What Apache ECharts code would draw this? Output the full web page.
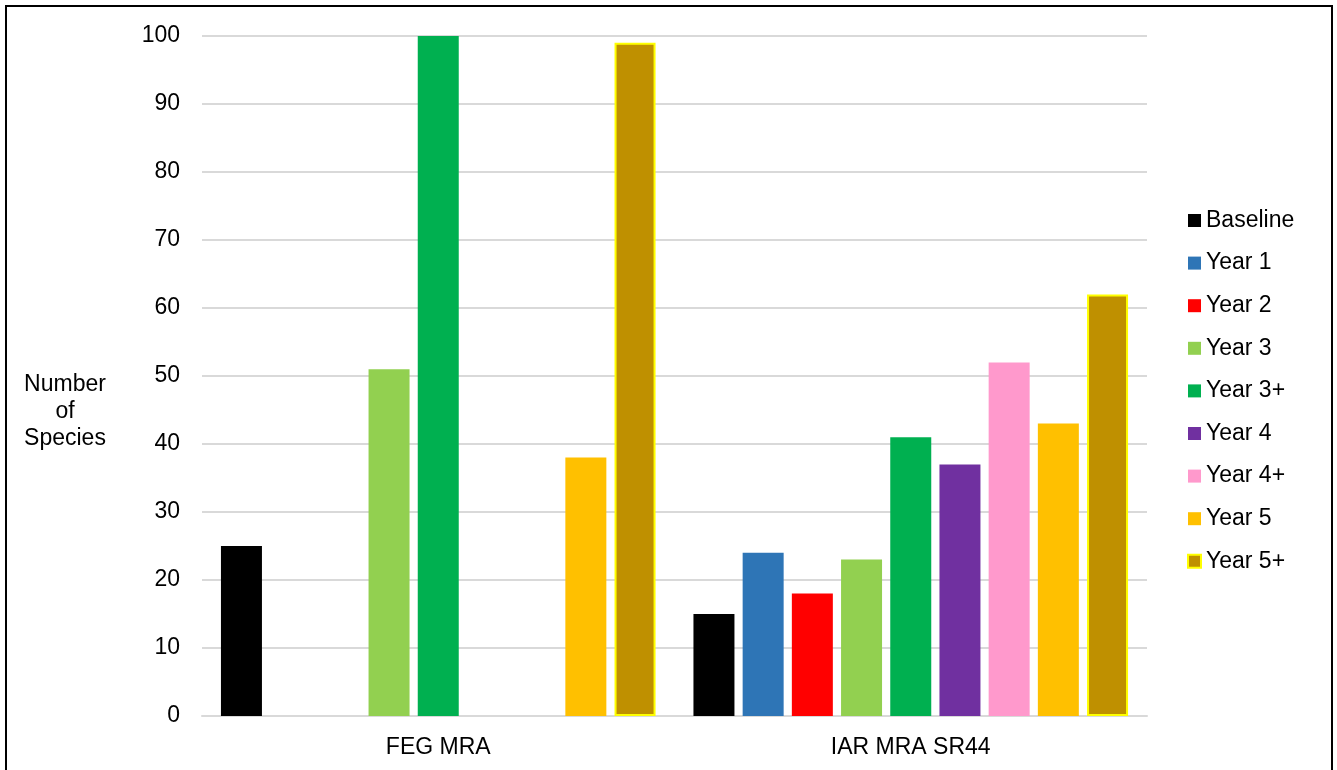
<!DOCTYPE html>
<html>
<head>
<meta charset="utf-8">
<script src="https://cdn.jsdelivr.net/npm/echarts@6/dist/echarts.min.js"></script>
<style>
  html, body { margin: 0; padding: 0; background: #fff; }
  #main { width: 1337px; height: 770px; }
</style>
</head>
<body>
<div id="main"></div>
<script>
// data
var categories = ['FEG MRA', 'IAR MRA SR44'];
var seriesNames = ['Baseline', 'Year 1', 'Year 2', 'Year 3', 'Year 3+', 'Year 4', 'Year 4+', 'Year 5', 'Year 5+'];
var baseline = [25, 15];
var year1 = [null, 24];
var year2 = [null, 18];
var year3 = [51, 23];
var year3p = [100, 41];
var year4 = [null, 37];
var year4p = [null, 52];
var year5 = [38, 43];
var year5p = [99, 62];
var yTicks = [0, 10, 20, 30, 40, 50, 60, 70, 80, 90, 100];

var values = [baseline, year1, year2, year3, year3p, year4, year4p, year5, year5p];
var colors = ['#000000', '#2E75B6', '#FF0000', '#92D050', '#00B050', '#7030A0', '#FF99CC', '#FFC000', '#BF9000'];

var myChart = echarts.init(document.getElementById('main'));

var series = seriesNames.map(function (name, i) {
    var s = {
        name: name,
        type: 'bar',
        data: values[i],
        barWidth: 41,
        barGap: '20%',
        itemStyle: { color: colors[i] }
    };
    if (name === 'Year 5+') {
        s.itemStyle.borderColor = '#FFFF00';
        s.itemStyle.borderWidth = 2;
    }
    return s;
});

var option = {
    animation: false,
    textStyle: { fontFamily: 'Liberation Sans, Arial, sans-serif' },
    grid: {
        left: 202,
        right: 190,
        top: 36,
        bottom: 54,
        containLabel: false
    },
    legend: {
        orient: 'vertical',
        left: 1182,
        top: 204,
        itemWidth: 13,
        itemHeight: 13,
        itemGap: 19.6,
        icon: 'rect',
        textStyle: { fontSize: 23, color: '#000', padding: [0, 0, 0, 0] },
        data: seriesNames
    },
    xAxis: {
        type: 'category',
        data: categories,
        axisTick: { show: false },
        axisLine: { lineStyle: { color: '#d9d9d9', width: 2 } },
        axisLabel: { fontSize: 23, color: '#000', margin: 20 }
    },
    yAxis: {
        type: 'value',
        min: yTicks[0],
        max: yTicks[yTicks.length - 1],
        interval: 10,
        axisLine: { show: false },
        axisTick: { show: false },
        splitLine: { lineStyle: { color: '#d9d9d9', width: 2 } },
        axisLabel: { fontSize: 23, color: '#000', margin: 22, padding: [3, 0, 0, 0] }
    },
    graphic: [
        {
            type: 'rect',
            shape: { x: 6, y: 6, width: 1326, height: 800 },
            style: { fill: 'none', stroke: '#000', lineWidth: 2 },
            z: 10
        },
        {
            type: 'text',
            x: 65,
            y: 412,
            style: {
                text: 'Number\nof\nSpecies',
                fontSize: 23,
                lineHeight: 27,
                align: 'center',
                verticalAlign: 'middle',
                fill: '#000',
                fontFamily: 'Liberation Sans, Arial, sans-serif'
            }
        }
    ],
    series: series
};

myChart.setOption(option);
</script>
</body>
</html>
